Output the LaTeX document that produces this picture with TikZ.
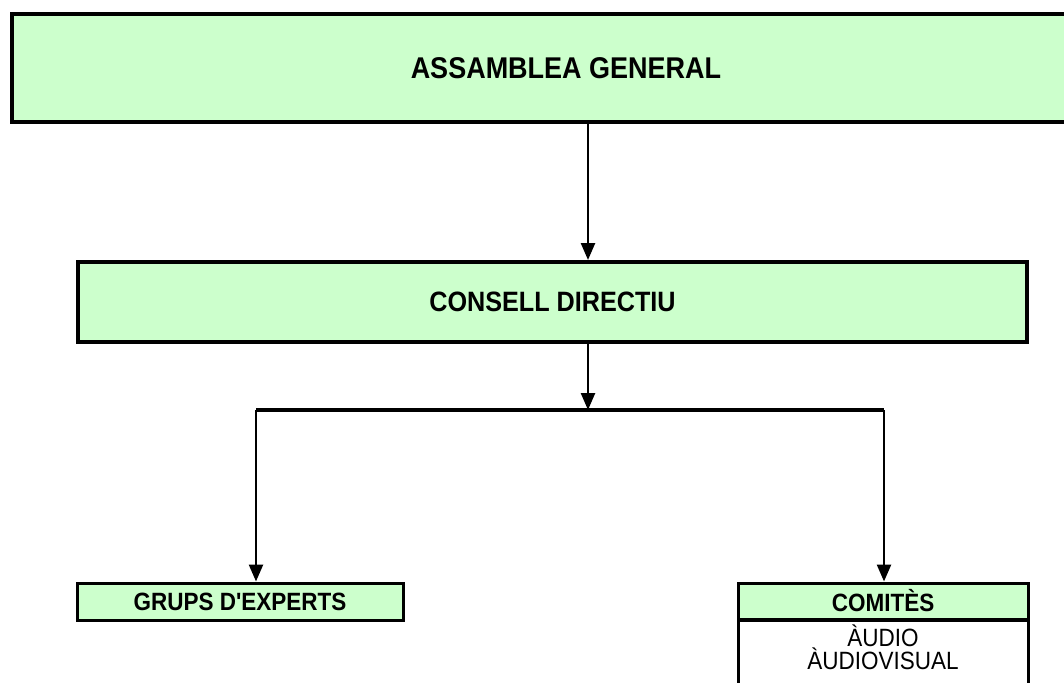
\documentclass[tikz,border=0pt]{standalone}
\usepackage{fontspec}
\newfontfamily\orgfont[FakeStretch=0.9]{Liberation Sans}
\usetikzlibrary{arrows.meta}
\definecolor{verd}{HTML}{CCFFCC}

\begin{document}
\begin{tikzpicture}[x=1pt,y=-1pt,
  caixa/.style={draw, fill=verd, inner sep=0pt, font={\orgfont\bfseries\fontsize{#1}{#1}\selectfont}},
  llista/.style={draw, fill=white, line width=3pt, minimum width=290pt, minimum height=90pt, inner sep=0pt},
  fletxa/.style={-{Triangle[width=14pt,length=17pt]}, line width=2.5pt}]
  \useasboundingbox (0,0) rectangle (1064,682);
  \node[caixa=30, line width=4pt, minimum width=1108pt, minimum height=108pt] (assemblea) at (566,68) {ASSAMBLEA GENERAL};
  \node[caixa=28, line width=4pt, minimum width=949pt, minimum height=80pt] (consell) at (552.5,302) {CONSELL DIRECTIU};
  \node[caixa=25, line width=3pt, minimum width=326pt, minimum height=37pt] (grups) at (240,601.5) {GRUPS D'EXPERTS};
  \node[llista, anchor=north] (membres) at (883,619) {};
  \node[caixa=25, line width=3pt, minimum width=290pt, minimum height=36pt] (comites) at (883,601) {COMITÈS};
  \node[font={\orgfont\fontsize{25}{23}\selectfont}, align=center, anchor=base] (noms) at (membres.north |- 0,669) {ÀUDIO\\ÀUDIOVISUAL};
  % branques
  \coordinate (eix) at (588,410);
  \coordinate (esq) at (256,410);
  \coordinate (dre) at (884,410);
  \draw[fletxa] (assemblea.south -| eix) -- (consell.north -| eix);
  \draw[fletxa] (consell.south -| eix) -- (eix);
  \draw[line width=4pt] (esq) -- (dre);
  \draw[fletxa] (esq) -- (grups.north -| esq);
  \draw[fletxa] (dre) -- (comites.north -| dre);
\end{tikzpicture}
\end{document}
